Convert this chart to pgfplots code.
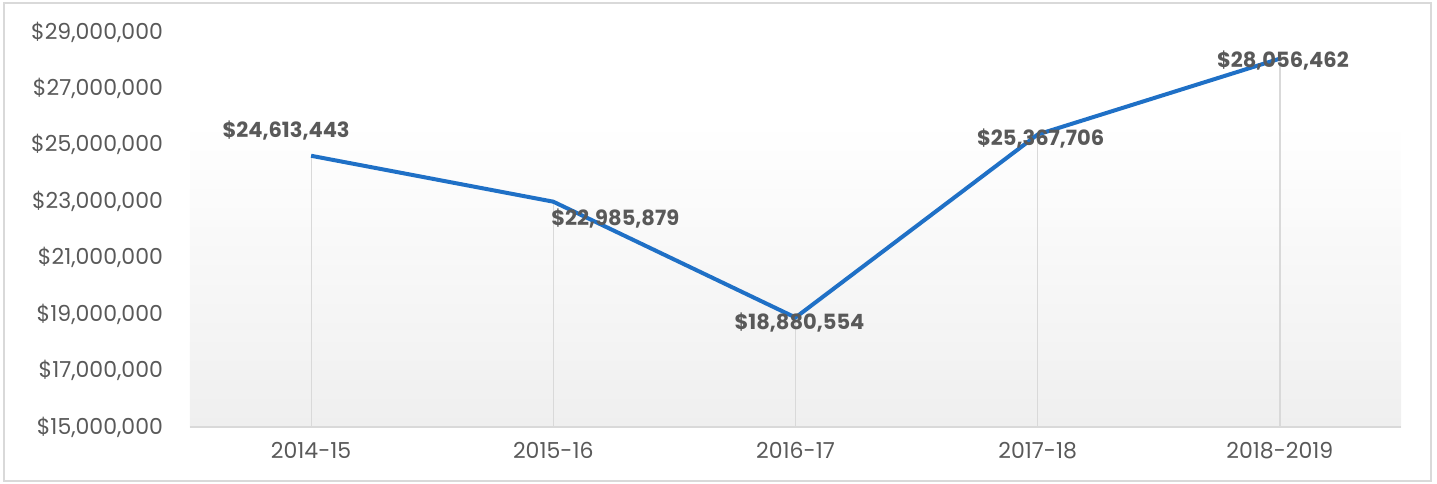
\documentclass[border=0pt]{standalone}
\usepackage{pgfplots}
\pgfplotsset{compat=1.18}
\usepackage{fontspec}
\setmainfont{Poppins}
\definecolor{linebl}{HTML}{1F70C6}
\definecolor{txtgray}{HTML}{595959}
\definecolor{gridgray}{HTML}{D9D9D9}
\definecolor{bggray}{HTML}{EFEFEF}
\begin{document}
\begin{tikzpicture}[font=\fontsize{10}{12}\selectfont]
\begin{axis}[
    scale only axis,
    width=605.5pt,
    height=197.5pt,
    xmin=-0.5, xmax=4.5,
    ymin=15000000, ymax=29000000,
    scaled y ticks=false,
    xtick=data,
    xticklabels={2014-15,2015-16,2016-17,2017-18,2018-2019},
    ytick={15000000,17000000,19000000,21000000,23000000,25000000,27000000,29000000},
    yticklabels={{\$15,000,000},{\$17,000,000},{\$19,000,000},{\$21,000,000},{\$23,000,000},{\$25,000,000},{\$27,000,000},{\$29,000,000}},
    axis x line*=bottom,
    axis y line*=left,
    y axis line style={draw=none},
    x axis line style={draw=gridgray, line width=1pt, -},
    tick style={draw=none},
    ticklabel style={text=txtgray, font=\fontsize{11}{13}\selectfont},
    xticklabel style={yshift=-4pt},
    yticklabel style={xshift=-10pt},
    clip=false,
]
  \fill[top color=white, bottom color=bggray] (axis cs:-0.5,15000000) rectangle (axis cs:4.5,25810000);
  \addplot[ycomb, draw=gridgray, line width=0.6pt, no marks] coordinates {
    (0,24613443) (1,22985879) (2,18880554) (3,25367706) (4,28056462)
  };
  \draw[gridgray, line width=1pt] (axis cs:-0.5,15000000) -- (axis cs:4.5,15000000);
  \addplot[
    draw=linebl, line width=2pt, no marks,
    point meta=explicit symbolic,
    nodes near coords,
    every node near coord/.style={anchor=center, text=txtgray, font=\fontsize{10.5}{12}\selectfont\bfseries},
    coordinate style/.condition={\coordindex==0}{xshift=-12.5pt, yshift=12.5pt},
    coordinate style/.condition={\coordindex==1}{xshift=31pt, yshift=-8.5pt},
    coordinate style/.condition={\coordindex==2}{xshift=2pt, yshift=-2.5pt},
    coordinate style/.condition={\coordindex==3}{xshift=1.5pt, yshift=-2pt},
    coordinate style/.condition={\coordindex==4}{xshift=1.5pt, yshift=-1pt},
  ] coordinates {
    (0,24613443) [\$24,613,443]
    (1,22985879) [\$22,985,879]
    (2,18880554) [\$18,880,554]
    (3,25367706) [\$25,367,706]
    (4,28056462) [\$28,056,462]
  };
\end{axis}
\draw[gridgray, line width=1pt] ([shift={(-93pt,-27pt)}]current axis.south west) rectangle ([shift={(15pt,14.5pt)}]current axis.north east);
\path ([shift={(-95pt,-28pt)}]current axis.south west) rectangle ([shift={(18pt,16pt)}]current axis.north east);
\end{tikzpicture}
\end{document}
